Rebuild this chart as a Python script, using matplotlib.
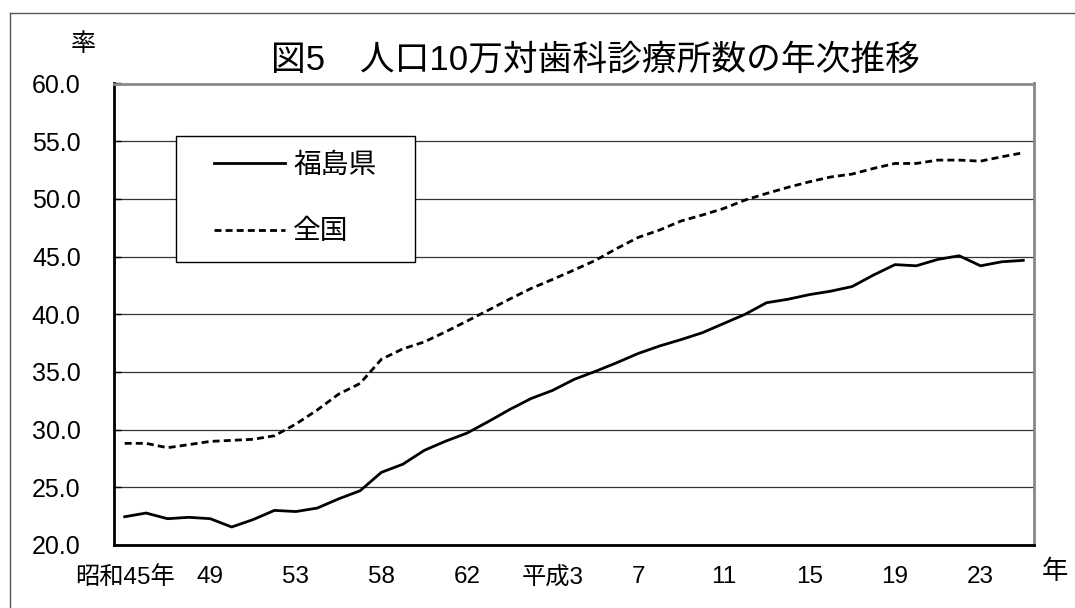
import matplotlib
matplotlib.use("Agg")
import matplotlib.pyplot as plt
import matplotlib.patches as patches
from matplotlib.lines import Line2D

plt.rcParams['font.family'] = ['Liberation Sans', 'Noto Sans CJK JP', 'DejaVu Sans']

# 年次 (categories) - 昭和45年 .. 平成25年
years = (["昭和45年", "46", "47", "48", "49", "50", "51", "52", "53",
          "55", "56", "57", "58", "59", "60", "61", "62", "63",
          "元", "2", "平成3"]
         + [str(y) for y in range(4, 26)])

fukushima = [22.45, 22.77, 22.28, 22.40, 22.28, 21.56, 22.20, 23.00, 22.90,
             23.20, 24.00, 24.70, 26.30, 27.00, 28.20, 29.00, 29.70, 30.70,
             31.75, 32.70, 33.40, 34.35, 35.05, 35.80, 36.60, 37.25, 37.80,
             38.40, 39.20, 40.00, 41.00, 41.30, 41.70, 42.00, 42.40, 43.40,
             44.30, 44.20, 44.75, 45.07, 44.20, 44.55, 44.67]

zenkoku = [28.81, 28.81, 28.43, 28.70, 28.98, 29.07, 29.16, 29.47, 30.48,
           31.70, 33.08, 34.00, 36.10, 37.00, 37.60, 38.48, 39.41, 40.36,
           41.32, 42.24, 43.02, 43.83, 44.67, 45.70, 46.66, 47.30, 48.08,
           48.60, 49.17, 49.90, 50.47, 51.00, 51.48, 51.90, 52.15, 52.64,
           53.07, 53.07, 53.36, 53.36, 53.27, 53.65, 54.00]

W, H = 1075, 608
fig = plt.figure(figsize=(W / 100, H / 100), dpi=100)
ax = fig.add_axes([114 / W, 1 - 545 / H, 920 / W, 461.5 / H])

x = list(range(len(years)))
ax.plot(x, fukushima, color="black", lw=2.0, label="福島県", zorder=3)
ax.plot(x, zenkoku, color="black", lw=2.0, ls=(0, (2.5, 1.5)), label="全国", zorder=3)

ax.set_xlim(-0.5, len(years) - 0.5)
ax.set_ylim(20, 60)
ax.set_yticks([20 + 5 * i for i in range(9)])
ax.set_yticklabels([f"{20 + 5 * i:.1f}" for i in range(9)], fontsize=18)
ax.set_xticks(x[::4])
ax.set_xticklabels(years[::4], fontsize=17.5)
ax.tick_params(axis="x", length=0, pad=15)
ax.tick_params(axis="y", direction="in", length=5, width=1, pad=24)

ax.grid(axis="y", color="#333333", lw=0.9)
ax.set_axisbelow(True)
for s in ("left", "bottom"):
    ax.spines[s].set_color("black")
    ax.spines[s].set_linewidth(2)
for s in ("top", "right"):
    ax.spines[s].set_color("#888888")
    ax.spines[s].set_linewidth(2)

# legend box
box = patches.Rectangle(((176 - 114) / 920, (545 - 262) / 461.5),
                        (415 - 176) / 920, (262 - 136) / 461.5,
                        transform=ax.transAxes, facecolor="white",
                        edgecolor="black", lw=1, zorder=4)
ax.add_patch(box)
ax.legend(loc="upper left", bbox_to_anchor=((214 - 114) / 920, (545 - 153) / 461.5),
          frameon=False, fontsize=20, handlelength=2.55, handletextpad=0.3,
          labelspacing=1.45, borderpad=0, borderaxespad=0)

fig.text(595 / W, 1 - 60 / H, "図5　人口10万対歯科診療所数の年次推移",
         fontsize=25, ha="center", va="center")
fig.text(83 / W, 1 - 44 / H, "率", fontsize=18, ha="center", va="center")
fig.text(1055 / W, 1 - 572 / H, "年", fontsize=19, ha="center", va="center")

# outer frame
fig.add_artist(Line2D([10 / W, 10 / W], [0, 1 - 13 / H], color="#555555", lw=1))
fig.add_artist(Line2D([10 / W, 1], [1 - 13 / H, 1 - 13 / H], color="#555555", lw=1))

fig.savefig("out.png", dpi=100)
